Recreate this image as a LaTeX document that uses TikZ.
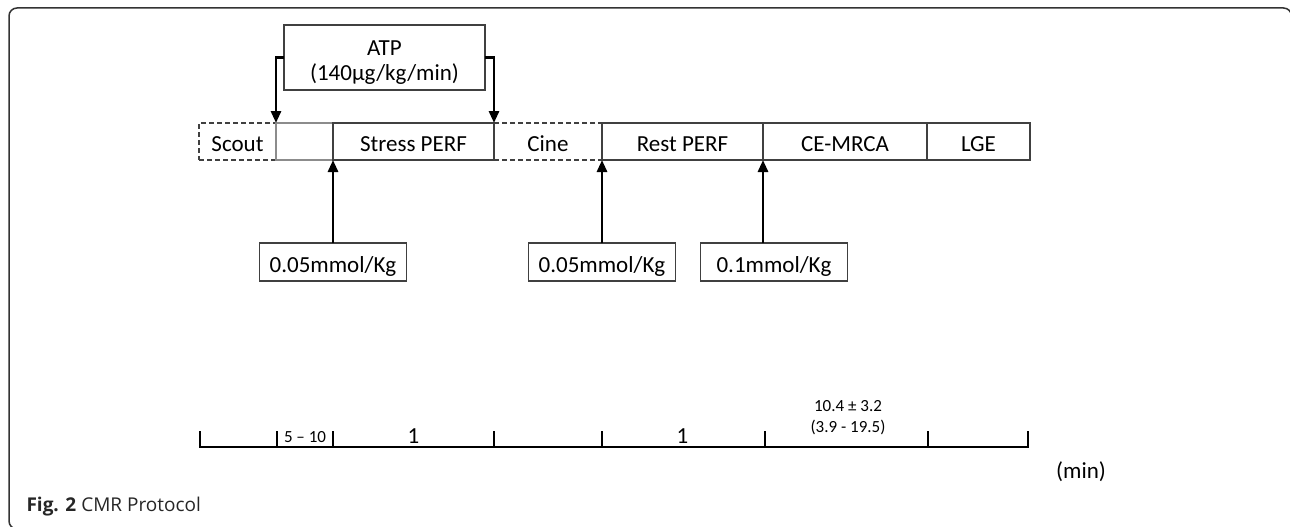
\documentclass[tikz,border=0pt]{standalone}
\usepackage{fontspec}
\setmainfont{Carlito}
\newfontfamily\captionfont{Open Sans}
\usetikzlibrary{arrows.meta, positioning}

\begin{document}
\begin{tikzpicture}[
    x=1pt, y=-1pt,
    font=\fontsize{23}{27}\selectfont,
    phase/.style={
        draw=black!75,
        line width=1.5pt,
        rectangle,
        minimum height=37pt,
        inner sep=0pt,
        outer sep=0pt,
        text height=20pt,
        text depth=0pt
    },
    prephase/.style={
        phase,
        dash pattern=on 5pt off 3pt
    },
    dose/.style={
        phase,
        minimum width=147pt,
        minimum height=38pt
    },
    arrow/.style={
        -{Triangle[length=12pt,width=10pt]},
        line width=2.8pt
    },
    timeline/.style={
        line width=2.8pt
    },
    frame/.style={
        draw=black!80,
        line width=1.5pt,
        rounded corners=8pt
    }
]
\useasboundingbox (0,0) rectangle (1290,527);

% Frame
\draw[frame] (30,529) -- (9,529) -- (9,8) -- (1291.5,8) -- (1291.5,30);

% Nodes
\node[prephase, minimum width=77pt, anchor=north west] (scout) at (199,123) {Scout};
\node[phase, draw=black!45, minimum width=57pt, right=0pt of scout] (gap) {};
\node[phase, minimum width=161pt, right=0pt of gap] (stress) {Stress PERF};
\node[prephase, minimum width=108pt, right=0pt of stress] (cine) {Cine};
\node[phase, minimum width=161pt, right=0pt of cine] (rest) {Rest PERF};
\node[phase, minimum width=164pt, right=0pt of rest] (cemrca) {CE-MRCA};
\node[phase, minimum width=103pt, right=0pt of cemrca] (lge) {LGE};

\node[phase, minimum width=201pt, minimum height=65pt, text height=, text depth=,
      align=center, font=\fontsize{23}{25}\selectfont, anchor=north west] (atp) at (284,25)
    {\rule{0pt}{25pt}ATP\\(140µg/kg/min)};

\node[dose, below=83pt of gap.south east] (dose1) {0.05mmol/Kg};
\node[dose, below=83pt of rest.south west] (dose2) {0.05mmol/Kg};
\node[dose, right=25pt of dose2] (dose3) {0.1mmol/Kg};

% Connections
\draw[arrow] (atp.west) -| (gap.north west);
\draw[arrow] (atp.east) -| (stress.north east);
\draw[arrow] (dose1.north) -- (gap.south east);
\draw[arrow] (dose2.north) -- (rest.south west);
\draw[arrow] (dose3.north -| rest.south east) -- (rest.south east);

% Time axis
\draw[timeline] (200,431) -- (200,447) -- (1028,447) -- (1028,431);
\foreach \x in {277,333,494,602,765,928}
    \draw[timeline] (\x,447) -- (\x,431);

% Labels
\node[font=\fontsize{17}{19}\selectfont] (dur1) at (305,437) {5 – 10};
\node (dur2) at (stress.center |- 0,436) {1};
\node (dur3) at (rest.center |- 0,436) {1};
\node[align=center, font=\fontsize{17}{21}\selectfont] (dur4) at (848,418) {10.4 ± 3.2\\(3.9 - 19.5)};
\node (unit) at (1081,472) {(min)};
\node[anchor=west, font=\captionfont\fontsize{19}{23}\selectfont, text=black!85] (caption) at (23,507)
    {\textbf{Fig. 2} CMR Protocol};

\end{tikzpicture}
\end{document}
